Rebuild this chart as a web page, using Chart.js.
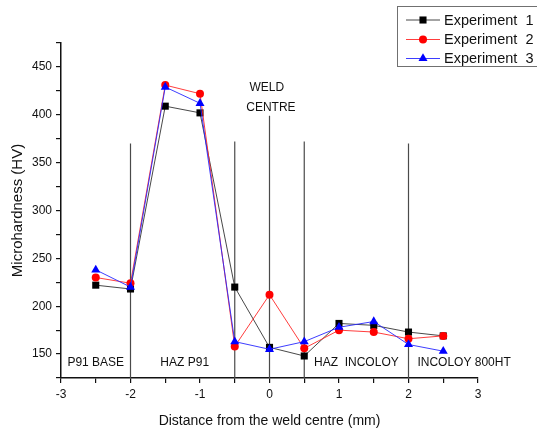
<!DOCTYPE html>
<html>
<head>
<meta charset="utf-8">
<script src="https://cdn.jsdelivr.net/npm/chart.js@4/dist/chart.umd.min.js"></script>
<style>
  html, body { margin: 0; padding: 0; background: #fff; }
  #wrap { width: 537px; height: 430px; }
</style>
</head>
<body>
<div id="wrap"><canvas id="c" width="537" height="430"></canvas></div>
<script>
// ---- data ----
const distances = [-2.5, -2, -1.5, -1, -0.5, 0, 0.5, 1, 1.5, 2, 2.5];
const experiment1 = [222, 218, 409, 402, 220, 157, 148, 182, 180, 173, 169];
const experiment2 = [230, 224, 431, 422, 158, 212, 156, 175, 173, 166, 169];
const experiment3 = [238, 220, 429, 412, 163, 155, 163, 178, 184, 160, 153];
const seriesNames = ['Experiment  1', 'Experiment  2', 'Experiment  3'];
const dividerX = [-2, -0.5, 0, 0.5, 2];
const dividerTop = [370, 372, 399, 372, 370];
const regionNames = ['P91 BASE', 'HAZ P91', 'HAZ  INCOLOY', 'INCOLOY 800HT'];
const weldLabel = ['WELD', 'CENTRE'];
const xTickLabels = [-3, -2, -1, 0, 1, 2, 3];
const yTickLabels = [150, 200, 250, 300, 350, 400, 450];

// ---- layout (not data) ----
const Y_MIN = 125, Y_MAX = 475, X_MIN = -3, X_MAX = 3;
const regionLabelPos = [[-2.5, 141.5], [-1.22, 141.5], [1.25, 141.5], [2.8, 141.5]];
const weldLabelPos = [[-0.04, 428], [0.02, 407]];
const FONT = 'Liberation Sans, Arial, sans-serif';

const toXY = (arr) => arr.map((v, i) => ({ x: distances[i], y: v }));

const styles = [
  { border: 'rgba(40,40,40,0.85)', fill: '#000000', point: 'rect', radius: 5 },
  { border: 'rgba(255,40,40,0.9)', fill: '#ff0000', point: 'circle', radius: 4 },
  { border: 'rgba(40,40,255,0.9)', fill: '#0000ff', point: 'triangle', radius: 5.2 }
];
const seriesData = [experiment1, experiment2, experiment3];

const datasets = seriesData.map((d, i) => ({
  label: seriesNames[i],
  data: toXY(d),
  borderColor: styles[i].border,
  backgroundColor: styles[i].fill,
  pointBackgroundColor: styles[i].fill,
  pointBorderColor: styles[i].fill,
  pointStyle: styles[i].point,
  pointRadius: styles[i].radius,
  pointBorderWidth: 0,
  borderWidth: 1,
  tension: 0,
  order: 2 - i
}));

dividerX.forEach((xv, i) => {
  datasets.push({
    label: 'divider' + i,
    data: [{ x: xv, y: Y_MIN }, { x: xv, y: dividerTop[i] }],
    borderColor: '#4a4a4a',
    borderWidth: 1.2,
    pointRadius: 0,
    order: 10
  });
});

const textPlugin = {
  id: 'texts',
  afterDatasetsDraw(chart) {
    const ctx = chart.ctx, xs = chart.scales.x, ys = chart.scales.y;
    ctx.save();
    ctx.fillStyle = '#111';
    ctx.font = '12px ' + FONT;
    ctx.textAlign = 'center';
    ctx.textBaseline = 'middle';
    regionNames.forEach((t, i) => {
      ctx.fillText(t, xs.getPixelForValue(regionLabelPos[i][0]), ys.getPixelForValue(regionLabelPos[i][1]));
    });
    weldLabel.forEach((t, i) => {
      ctx.fillText(t, xs.getPixelForValue(weldLabelPos[i][0]), ys.getPixelForValue(weldLabelPos[i][1]));
    });
    ctx.restore();
  },
  afterDraw(chart) {
    const ctx = chart.ctx;
    ctx.save();
    ctx.fillStyle = '#fff';
    ctx.strokeStyle = '#707070';
    ctx.lineWidth = 1;
    ctx.fillRect(397, 6, 150, 61);
    ctx.strokeRect(397.5, 6.5, 150, 60);
    const rows = [20, 39.5, 58.5];
    seriesData.forEach((_, i) => {
      const y = rows[i];
      ctx.strokeStyle = styles[i].border;
      ctx.lineWidth = 1;
      ctx.beginPath();
      ctx.moveTo(406, y);
      ctx.lineTo(440, y);
      ctx.stroke();
      ctx.fillStyle = styles[i].fill;
      ctx.strokeStyle = styles[i].fill;
      Chart.helpers.drawPoint(ctx, { pointStyle: styles[i].point, radius: styles[i].radius, borderWidth: 0 }, 423, y);
      ctx.fillStyle = '#111';
      ctx.font = '14.5px ' + FONT;
      ctx.textAlign = 'left';
      ctx.textBaseline = 'middle';
      ctx.fillText(seriesNames[i], 444, y + 0.5);
    });
    ctx.restore();
  }
};

new Chart(document.getElementById('c'), {
  type: 'line',
  data: { datasets },
  options: {
    responsive: false,
    animation: false,
    devicePixelRatio: 1,
    layout: { padding: { top: 43, right: 59, left: 0, bottom: 0 } },
    plugins: { legend: { display: false }, tooltip: { enabled: false } },
    scales: {
      x: {
        type: 'linear',
        min: X_MIN, max: X_MAX,
        afterFit(s) { s.height = 52; },
        afterBuildTicks(s) {
          const t = [];
          for (let v = X_MIN; v <= X_MAX + 1e-9; v += 0.5) t.push({ value: Math.round(v * 10) / 10 });
          s.ticks = t;
        },
        ticks: {
          autoSkip: false,
          maxRotation: 0,
          padding: 4,
          color: '#111',
          font: { size: 12, family: FONT },
          callback: (v) => xTickLabels.includes(v) ? String(v) : ''
        },
        grid: {
          drawOnChartArea: false,
          drawTicks: true,
          tickLength: 5,
          color: '#111',
          lineWidth: 1.2
        },
        border: { display: true, color: '#111', width: 1.5 },
        title: {
          display: true,
          text: 'Distance from the weld centre (mm)',
          color: '#111',
          font: { size: 14, family: FONT },
          padding: { top: 4, bottom: 0 }
        }
      },
      y: {
        type: 'linear',
        min: Y_MIN, max: Y_MAX,
        afterFit(s) { s.width = 61; },
        afterBuildTicks(s) {
          const t = [];
          for (let v = Y_MIN; v <= Y_MAX; v += 25) t.push({ value: v });
          s.ticks = t;
        },
        ticks: {
          autoSkip: false,
          padding: 4,
          color: '#111',
          font: { size: 12, family: FONT },
          callback: (v) => yTickLabels.includes(v) ? String(v) : ''
        },
        grid: {
          drawOnChartArea: false,
          drawTicks: true,
          tickLength: 5,
          color: '#111',
          lineWidth: 1.2
        },
        border: { display: true, color: '#111', width: 1.5 },
        title: {
          display: true,
          text: 'Microhardness (HV)',
          color: '#111',
          font: { size: 15, family: FONT },
          padding: { top: 9, bottom: 0 }
        }
      }
    }
  },
  plugins: [textPlugin]
});
</script>
</body>
</html>
